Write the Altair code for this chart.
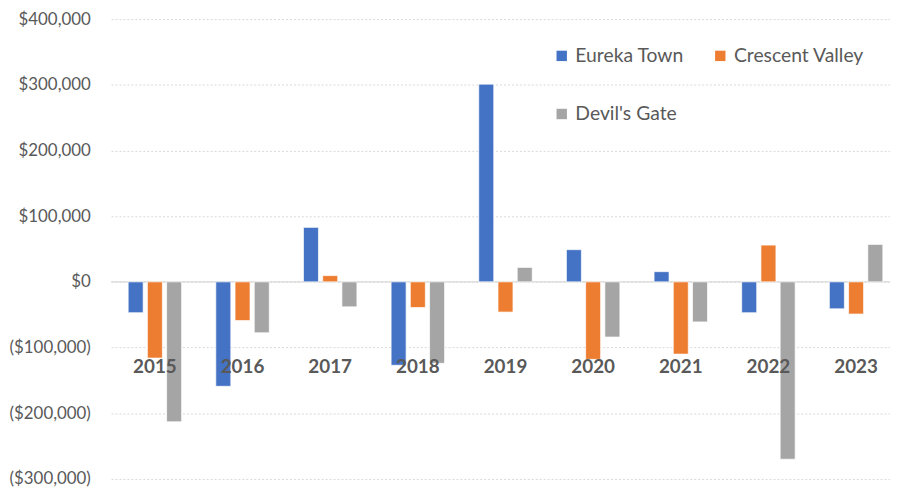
import altair as alt
import pandas as pd

years = ["2015", "2016", "2017", "2018", "2019", "2020", "2021", "2022", "2023"]
series = ["Eureka Town", "Crescent Valley", "Devil's Gate"]
eureka = [-47000, -159000, 83000, -127000, 301000, 49000, 15500, -47000, -41000]
crescent = [-116000, -59000, 9500, -39000, -46000, -118000, -110000, 56000, -49000]
devils = [-213000, -77500, -38000, -124000, 22000, -84000, -61000, -270000, 57000]
colors = ["#4472C4", "#ED7D31", "#A5A5A5"]

rows = []
for name, vals in zip(series, [eureka, crescent, devils]):
    for y, v in zip(years, vals):
        rows.append({"year": y, "series": name, "value": v})
df = pd.DataFrame(rows)
ydf = pd.DataFrame({"year": years})

FONT = "Lato"
GREY = "#595959"

xscale = alt.Scale(domain=years, paddingInner=0.39, paddingOuter=0.195)
yscale = alt.Scale(domain=[-300000, 400000], nice=False)

label_expr = "datum.value < 0 ? '($' + format(-datum.value, ',') + ')' : '$' + format(datum.value, ',')"

bars = alt.Chart(df).mark_bar(stroke="white", strokeWidth=0.7).encode(
    x=alt.X("year:N", scale=xscale, axis=None),
    xOffset=alt.XOffset("series:N", sort=series,
                        scale=alt.Scale(domain=series, paddingInner=0.22, paddingOuter=0)),
    y=alt.Y("value:Q", scale=yscale, title=None,
            axis=alt.Axis(values=[-300000, -200000, -100000, 0, 100000, 200000, 300000, 400000],
                          labelExpr=label_expr, domain=False, ticks=False,
                          labelFont=FONT, labelFontSize=17, labelColor=GREY, labelPadding=21,
                          grid=True, gridColor="#D9D9D9", gridDash=[2, 2], gridWidth=1)),
    color=alt.Color("series:N", sort=series,
                    scale=alt.Scale(domain=series, range=colors),
                    legend=alt.Legend(title=None, orient="none", legendX=445, legendY=27,
                                      columns=2, direction="horizontal",
                                      columnPadding=26, rowPadding=38,
                                      symbolType="square", symbolSize=110, symbolStrokeWidth=0,
                                      labelFont=FONT, labelFontSize=19.5, labelColor=GREY,
                                      labelOffset=4)),
)

zero = alt.Chart(pd.DataFrame({"z": [0]})).mark_rule(color="#D9D9D9", strokeWidth=1.3).encode(
    y=alt.Y("z:Q", scale=yscale)
)

labels = alt.Chart(ydf).mark_text(font=FONT, fontSize=19, fontWeight="bold", color=GREY).encode(
    x=alt.X("year:N", scale=xscale, axis=None),
    y=alt.datum(-130000, scale=yscale),
    text="year:N",
)

chart = alt.layer(zero, bars, labels).properties(
    width=796, height=464,
    autosize=alt.AutoSizeParams(type="none"),
    padding={"left": 104, "top": 9, "right": -10, "bottom": 12},
).configure_view(stroke=None)

chart.save("out.html", embed_options={"renderer": "svg", "actions": False})
